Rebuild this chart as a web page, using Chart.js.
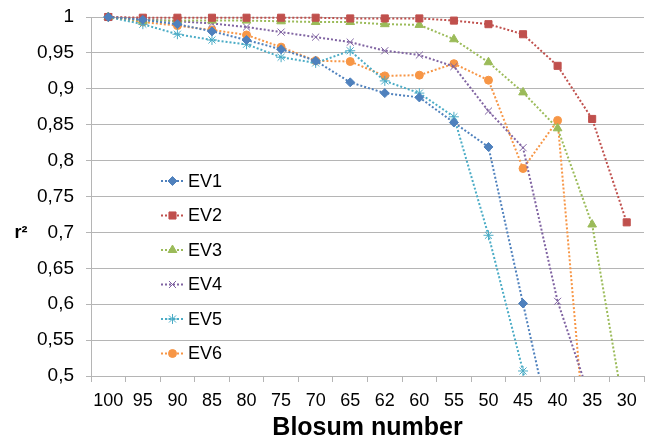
<!DOCTYPE html>
<html>
<head>
<meta charset="utf-8">
<script src="https://cdn.jsdelivr.net/npm/chart.js@4/dist/chart.umd.min.js"></script>
<style>
  html, body { margin: 0; padding: 0; background: #fff; overflow: hidden; }
  #wrap { width: 646px; height: 442px; overflow: hidden; }
</style>
</head>
<body>
<!-- canvas is 4px wider than the page: Chart.js keeps a 5px right margin, this pushes the plot edge to x=645 -->
<div id="wrap"><canvas id="chart" width="650" height="442"></canvas></div>
<script>
const blosum = ["100", "95", "90", "85", "80", "75", "70", "65", "62", "60", "55", "50", "45", "40", "35", "30"];

// r2 values per Blosum matrix (points under 0.5 fall off the axis)
const ev1 = [1, 0.996, 0.99, 0.98, 0.968, 0.955, 0.939, 0.909, 0.894, 0.888, 0.853, 0.819, 0.601, 0.385, null, null];
const ev2 = [1, 0.999, 0.999, 0.999, 0.999, 0.999, 0.999, 0.998, 0.998, 0.998, 0.995, 0.99, 0.976, 0.932, 0.858, 0.714];
const ev3 = [1, 0.995, 0.995, 0.995, 0.995, 0.994, 0.993, 0.993, 0.99, 0.989, 0.969, 0.937, 0.895, 0.845, 0.711, 0.43];
const ev4 = [1, 0.997, 0.994, 0.991, 0.986, 0.979, 0.972, 0.965, 0.953, 0.947, 0.931, 0.869, 0.818, 0.604, 0.46, null];
const ev5 = [1, 0.99, 0.976, 0.968, 0.962, 0.944, 0.936, 0.953, 0.911, 0.894, 0.861, 0.696, 0.507, 0.25, null, null];
const ev6 = [1, 0.993, 0.988, 0.982, 0.975, 0.958, 0.939, 0.938, 0.918, 0.919, 0.935, 0.912, 0.789, 0.856, 0.3, null];

const yTicks = { min: 0.5, max: 1, step: 0.05 };

const FONT = "'Liberation Sans', Arial, sans-serif";
const gridColor = "#b5b5b5";

function series(label, data, color, style, radius) {
  return {
    label,
    data,
    borderColor: color,
    backgroundColor: color,
    borderWidth: 2,
    borderDash: [2, 2],
    pointStyle: style,
    pointRadius: radius,
    pointHoverRadius: radius,
    pointBorderWidth: 1,
    pointBorderColor: color,
    pointBackgroundColor: color,
    tension: 0,
    fill: false,
    clip: { left: false, top: false, right: false, bottom: 0 }
  };
}

const datasets = [
  series("EV1", ev1, "#4F81BD", "rectRot", 4.5),
  series("EV2", ev2, "#C0504D", "rect", 5),
  series("EV3", ev3, "#9BBB59", "triangle", 5),
  series("EV4", ev4, "#8064A2", "crossRot", 5),
  series("EV5", ev5, "#4BACC6", "star", 5),
  series("EV6", ev6, "#F79646", "circle", 4)
];

// legend with dotted line + marker, and the two axis captions
const extras = {
  id: "extras",
  afterDraw(chart) {
    const ctx = chart.ctx;
    ctx.save();
    chart.data.datasets.forEach((ds, i) => {
      const y = 181 + i * 34.5;
      ctx.strokeStyle = ds.borderColor;
      ctx.lineWidth = 2;
      ctx.setLineDash([2, 2]);
      ctx.beginPath();
      ctx.moveTo(161, y);
      ctx.lineTo(184, y);
      ctx.stroke();
      ctx.setLineDash([]);
      ctx.fillStyle = ds.pointBackgroundColor;
      ctx.strokeStyle = ds.pointBorderColor;
      ctx.lineWidth = 1;
      Chart.helpers.drawPoint(ctx, {
        pointStyle: ds.pointStyle,
        radius: ds.pointRadius,
        rotation: 0,
        borderWidth: 1
      }, 172.5, y);
      ctx.fillStyle = "#000";
      ctx.font = "18px " + FONT;
      ctx.textAlign = "left";
      ctx.textBaseline = "middle";
      ctx.fillText(ds.label, 188, y + 1);
    });

    ctx.fillStyle = "#000";
    ctx.font = "bold 25px " + FONT;
    ctx.textAlign = "center";
    ctx.textBaseline = "middle";
    ctx.fillText("Blosum number", (chart.chartArea.left + chart.chartArea.right) / 2, 428);

    ctx.font = "bold 18px " + FONT;
    ctx.fillText("r²", 21, 233);
    ctx.restore();
  }
};

new Chart(document.getElementById("chart"), {
  type: "line",
  data: { labels: blosum, datasets },
  options: {
    responsive: false,
    animation: false,
    layout: { padding: { left: 0, top: 17, right: 1, bottom: 0 } },
    plugins: {
      legend: { display: false },
      tooltip: { enabled: false }
    },
    scales: {
      x: {
        offset: true,
        grid: { offset: true, drawOnChartArea: false, drawTicks: true, tickLength: 6, color: gridColor },
        border: { color: gridColor, width: 1 },
        ticks: { color: "#000", font: { family: FONT, size: 18 }, padding: 8, maxRotation: 0, autoSkip: false },
        afterFit(scale) {
          scale.height = 66;
          scale.paddingLeft = 0;
          scale.paddingRight = 0;
        }
      },
      y: {
        min: yTicks.min,
        max: yTicks.max,
        grid: { color: gridColor, tickLength: 5 },
        border: { color: gridColor, width: 1 },
        ticks: {
          stepSize: yTicks.step,
          color: "#000",
          padding: 12,
          font: { family: FONT, size: 19 },
          callback: (v) => String(+v.toFixed(2)).replace(".", ",")
        },
        afterFit(scale) {
          scale.width = 91;
          scale.paddingTop = 0;
          scale.paddingBottom = 0;
        }
      }
    }
  },
  plugins: [extras]
});
</script>
</body>
</html>
